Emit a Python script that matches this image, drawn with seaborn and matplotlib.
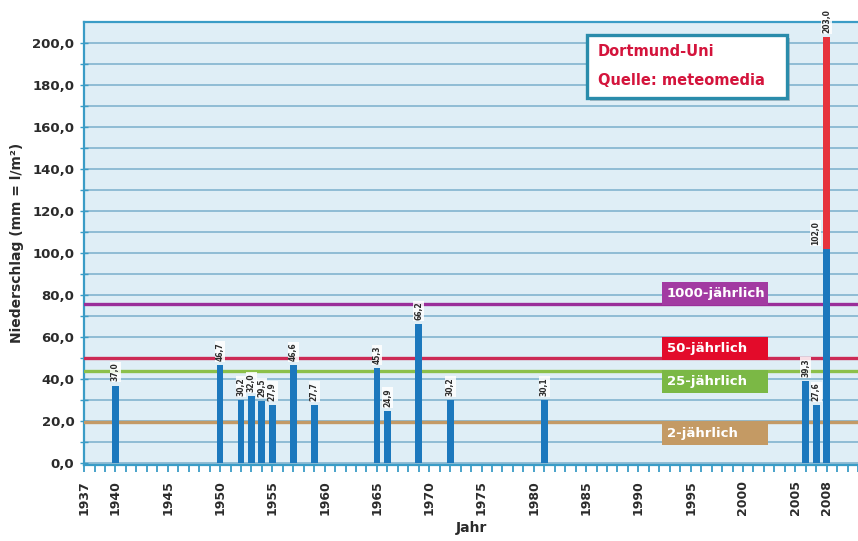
import matplotlib
matplotlib.use("Agg")
import matplotlib.pyplot as plt
import matplotlib.transforms as mtransforms
from matplotlib.patches import Rectangle
import pandas as pd
import seaborn as sns

# Daily precipitation extremes, Dortmund university station
years = [1940, 1950, 1952, 1953, 1954, 1955, 1957, 1959, 1965, 1966,
         1969, 1972, 1981, 2006, 2007, 2008]
rain_mm = [37.0, 46.7, 30.2, 32.0, 29.5, 27.9, 46.6, 27.7, 45.3, 24.9,
           66.2, 30.2, 30.1, 39.3, 27.6, 102.0]

# 2008 event: total amount (upper part drawn in red above the blue part)
total_years = [2008]
total_mm = [203.0]

# Return-period levels
threshold_labels = ["1000-jährlich", "50-jährlich", "25-jährlich", "2-jährlich"]
threshold_mm = [76.0, 50.0, 44.0, 19.5]
threshold_line_colors = ["#9a2f9a", "#cc2a55", "#8cc04a", "#c39a66"]
threshold_box_colors = ["#a23ba2", "#e30b2a", "#7bb845", "#c49a64"]
threshold_box_side = ["above", "above", "below", "below"]

tick_years = [1937, 1940, 1945, 1950, 1955, 1960, 1965, 1970, 1975,
              1980, 1985, 1990, 1995, 2000, 2005, 2008]
y_ticks = [0, 20, 40, 60, 80, 100, 120, 140, 160, 180, 200]

sns.set_theme(style="white")
plt.rcParams["font.family"] = ["DejaVu Sans"]

BLUE = "#1c78bd"
RED = "#e6333c"
SPINE = "#3a9cc6"
GRID = "#7aafcb"
TEXT = "#2b2b2b"

fig = plt.figure(figsize=(8.58, 5.41), dpi=100)
ax = fig.add_axes([0.098, 0.1405, 0.902, 0.8195])
ax.set_facecolor("#dfeef6")

df = pd.DataFrame({"Jahr": years, "mm": rain_mm})
df_total = pd.DataFrame({"Jahr": total_years, "mm": total_mm})

# red total first, blue amounts drawn over it
sns.barplot(data=df_total, x="Jahr", y="mm", native_scale=True, width=0.65,
            color=RED, saturation=1, edgecolor="none", linewidth=0,
            ax=ax, zorder=4)
sns.barplot(data=df, x="Jahr", y="mm", native_scale=True, width=0.65,
            color=BLUE, saturation=1, edgecolor="none", linewidth=0,
            ax=ax, zorder=5)

ax.set_xlim(1937, 2011)
ax.set_ylim(-0.8, 210.3)

# horizontal grid every 10 mm
ax.set_yticks(y_ticks)
ax.set_yticks(range(10, 210, 20), minor=True)
ax.grid(axis="y", which="both", color=GRID, lw=1.1, zorder=1)
ax.set_axisbelow(True)
ax.set_yticklabels([f"{v:.1f}".replace(".", ",") for v in y_ticks],
                   fontsize=9.5, fontweight="bold", color=TEXT)

ax.set_xticks(tick_years)
ax.set_xticks(range(1937, 2012), minor=True)
ax.set_xticklabels([str(y) for y in tick_years], rotation=90,
                   fontsize=9, fontweight="bold", color=TEXT)
ax.tick_params(axis="x", which="both", direction="out", length=5,
               width=1.3, color=SPINE, bottom=True, pad=6)
ax.tick_params(axis="y", which="both", direction="inout", length=6,
               width=1.0, color=SPINE, left=True, pad=4)

for side in ["left", "bottom", "top"]:
    ax.spines[side].set_color(SPINE)
    ax.spines[side].set_linewidth(1.6)
ax.spines["right"].set_visible(False)

ax.set_xlabel("Jahr", fontsize=10, fontweight="bold", color=TEXT, labelpad=4)
ax.set_ylabel("Niederschlag (mm = l/m²)", fontsize=10, fontweight="bold",
              color=TEXT, labelpad=6)

# return-period lines with their label boxes
blend = mtransforms.blended_transform_factory(ax.transAxes, ax.transData)
box_x0, box_w = 0.747, 0.137
box_h = 10.9
for lab, val, lc, bc, side in zip(threshold_labels, threshold_mm,
                                  threshold_line_colors, threshold_box_colors,
                                  threshold_box_side):
    ax.axhline(val, color=lc, lw=2.4, zorder=3)
    y0 = val - 0.7 if side == "above" else val - box_h + 0.3
    ax.add_patch(Rectangle((box_x0, y0), box_w, box_h, transform=blend,
                           facecolor=bc, edgecolor="none", zorder=3.5))
    ax.text(box_x0 + 0.006, y0 + box_h / 2, lab, transform=blend,
            ha="left", va="center", color="white", fontsize=9.5,
            fontweight="bold", zorder=3.6)

# value labels
def fmt(v):
    return f"{v:.1f}".replace(".", ",")

label_box = dict(boxstyle="square,pad=0.12", facecolor="white",
                 edgecolor="none", alpha=0.85)
for x, v in zip(years, rain_mm):
    dx = -8 if x in total_years else 0
    ax.annotate(fmt(v), (x, v), xytext=(dx, 3), textcoords="offset points",
                rotation=90, ha="center", va="bottom", fontsize=5.5,
                fontweight="bold", color=TEXT, bbox=label_box, zorder=6)
for x, v in zip(total_years, total_mm):
    ax.annotate(fmt(v), (x, v), xytext=(0, 3), textcoords="offset points",
                rotation=90, ha="center", va="bottom", fontsize=5.5,
                fontweight="bold", color=TEXT, bbox=label_box, zorder=6,
                annotation_clip=False)

# source box
ax.add_patch(Rectangle((0.654, 0.822), 0.258, 0.142, transform=ax.transAxes,
                       facecolor="#8a9aa3", edgecolor="none", alpha=0.55,
                       zorder=7))
ax.add_patch(Rectangle((0.650, 0.828), 0.258, 0.142, transform=ax.transAxes,
                       facecolor="white", edgecolor="#2a8cab", lw=2.4,
                       zorder=8))
ax.text(0.664, 0.932, "Dortmund-Uni", transform=ax.transAxes, ha="left",
        va="center", fontsize=10.5, fontweight="bold", color="#d4143c",
        zorder=9)
ax.text(0.664, 0.868, "Quelle: meteomedia", transform=ax.transAxes,
        ha="left", va="center", fontsize=10.5, fontweight="bold",
        color="#d4143c", zorder=9)

fig.savefig("out.png", dpi=100, facecolor="white")
